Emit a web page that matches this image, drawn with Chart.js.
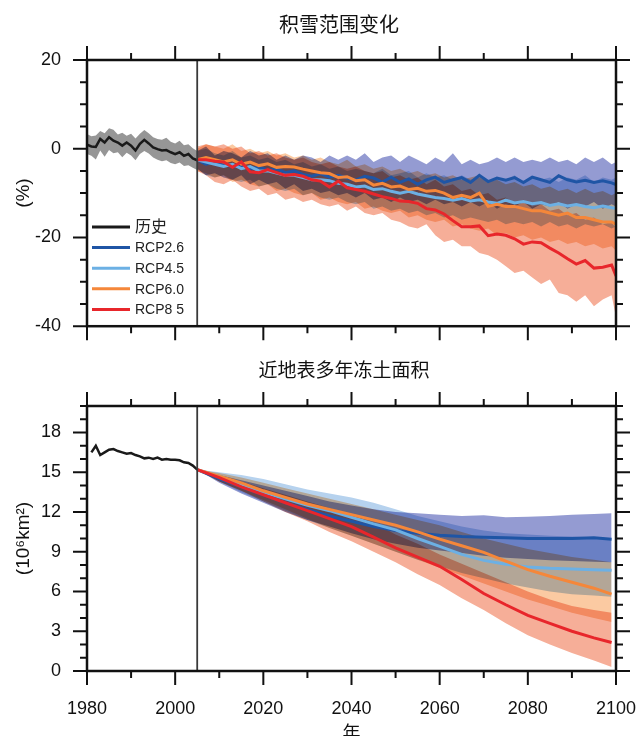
<!DOCTYPE html>
<html>
<head>
<meta charset="utf-8">
<script src="https://cdn.jsdelivr.net/npm/chart.js@4.4.1/dist/chart.umd.min.js"></script>
<style>
  html, body { margin: 0; padding: 0; background: #fff; overflow: hidden; }
  .panel { position: absolute; left: 0; width: 637px; }
  #snowBox { top: 0; height: 363px; }
  #permBox { top: 345px; height: 410px; }
</style>
</head>
<body>
<div class="panel" id="snowBox"><canvas id="snow" width="637" height="363"></canvas></div>
<div class="panel" id="permBox"><canvas id="perm" width="637" height="410"></canvas></div>
<script>
// ---- snow cover extent change (%) ----
const histYears = [1980,1981,1982,1983,1984,1985,1986,1987,1988,1989,
  1990,1991,1992,1993,1994,1995,1996,1997,1998,1999,2000,2001,2002,2003,2004,2005];
const snowHist   = [0.9,0.5,0.4,2.2,1.4,2.6,1.8,1.4,0.7,1.4, 0.7,-0.4,1.1,2.0,1.2,0.3,-0.1,-0.4,-0.3,-0.8, -1.2,-0.8,-1.6,-1.2,-2.2,-2.6];
const snowHistHi = [3.3,2.8,3.0,4.0,3.5,4.6,4.3,3.2,3.6,2.9, 3.4,2.3,3.4,4.2,3.5,2.6,2.2,2.0,2.5,1.6, 1.2,1.8,0.8,1.0,0.1,-0.5];
const snowHistLo = [-1.2,-1.6,-2.4,-0.4,-1.8,-0.3,-1.0,-0.8,-1.9,-0.9, -1.5,-2.6,-1.2,-0.5,-1.1,-2.0,-2.5,-2.8,-2.6,-3.2, -3.5,-3.1,-3.9,-3.7,-4.3,-4.8];

const snowYears = [2005,2007,2009,2011,2013,2015,2017,2019,2021,2023,
  2025,2027,2029,2031,2033,2035,2037,2039,2041,2043,
  2045,2047,2049,2051,2053,2055,2057,2059,2061,2063,
  2065,2067,2069,2071,2073,2075,2077,2079,2081,2083,
  2085,2087,2089,2091,2093,2095,2097,2099,2100];

const snow26 = [-2.5,-3.5,-3.0,-3.6,-4.0,-3.8,-4.6,-4.1,-4.9,-4.5,
  -5.4,-5.0,-5.8,-6.2,-5.6,-6.4,-6.0,-6.6,-7.1,-6.2,
  -6.6,-7.5,-6.4,-7.6,-6.8,-8.0,-7.0,-6.4,-7.6,-7.0,
  -6.5,-7.6,-6.0,-7.4,-6.6,-7.1,-6.5,-7.6,-6.4,-7.0,
  -7.6,-6.1,-7.0,-7.5,-7.1,-7.6,-7.2,-7.7,-8.1];
const snow26Hi = [-0.5,0.5,-1.5,-0.5,-1.0,-2.0,-0.5,-1.5,-1.0,-2.5,
  -1.5,-2.5,-1.5,-2.0,-3.0,-1.5,-2.5,-1.5,-2.5,-1.0,
  -3.0,-2.0,-1.5,-3.0,-1.5,-2.5,-3.5,-2.0,-3.0,-1.0,
  -3.5,-2.5,-3.5,-3.0,-2.0,-3.0,-2.0,-3.0,-2.5,-3.0,
  -2.0,-3.0,-2.5,-3.5,-2.0,-3.0,-2.0,-3.5,-3.0];
const snow26Lo = [-4.5,-6.0,-5.5,-6.5,-7.0,-6.0,-8.0,-7.0,-8.0,-7.5,
  -9.0,-8.0,-9.5,-9.0,-10.0,-9.5,-10.5,-10.0,-11.0,-10.0,
  -11.5,-11.0,-12.0,-11.0,-12.0,-11.5,-12.5,-11.5,-12.5,-12.0,
  -13.0,-12.0,-13.0,-12.0,-13.5,-12.5,-13.0,-12.0,-13.5,-12.5,
  -13.0,-12.0,-13.5,-12.5,-13.0,-12.0,-13.5,-12.5,-13.0];

const snow45 = [-2.5,-3.0,-3.5,-4.0,-3.5,-4.5,-4.0,-5.0,-5.0,-5.5,
  -6.0,-6.0,-6.5,-7.0,-7.0,-7.2,-7.8,-8.0,-8.6,-8.4,
  -9.2,-9.0,-9.6,-10.0,-9.6,-10.2,-10.6,-11.0,-11.2,-11.6,
  -11.2,-11.8,-11.5,-12.0,-12.3,-11.6,-12.2,-11.9,-12.4,-12.1,
  -12.8,-12.4,-12.9,-12.6,-13.0,-13.3,-12.9,-13.3,-13.4];
const snow45Hi = [-0.5,0.0,-1.0,-1.5,-0.5,-2.0,-1.5,-2.5,-2.0,-3.0,
  -2.5,-3.5,-3.0,-4.0,-3.5,-4.5,-4.0,-5.0,-4.5,-5.0,
  -5.5,-4.5,-6.0,-5.5,-5.0,-6.5,-5.5,-6.5,-6.0,-7.0,
  -6.0,-7.0,-6.5,-7.5,-6.5,-7.0,-6.0,-7.5,-6.5,-7.0,
  -6.5,-7.5,-6.5,-7.0,-6.0,-7.5,-6.5,-7.0,-6.5];
const snow45Lo = [-4.5,-6.0,-6.5,-6.0,-7.0,-7.5,-7.0,-8.5,-8.0,-9.0,
  -9.5,-9.0,-10.5,-10.0,-11.0,-11.5,-11.0,-12.0,-12.5,-12.0,
  -13.5,-13.0,-14.0,-13.5,-14.5,-14.0,-15.0,-14.5,-15.5,-15.0,
  -16.0,-15.5,-16.0,-16.5,-16.0,-17.0,-16.5,-17.0,-16.5,-17.5,
  -16.5,-17.5,-17.0,-18.0,-17.0,-17.5,-17.0,-18.0,-17.5];

const snow60 = [-2.5,-2.0,-2.5,-3.0,-2.5,-3.5,-3.0,-3.8,-3.4,-4.2,
  -4.0,-4.1,-4.6,-5.0,-5.4,-5.6,-6.5,-6.3,-7.2,-7.0,
  -8.2,-7.8,-8.6,-8.4,-9.2,-8.9,-9.6,-9.4,-10.0,-11.0,
  -10.5,-11.0,-10.0,-13.0,-12.5,-13.0,-13.0,-13.5,-14.0,-14.0,
  -14.5,-15.0,-14.5,-15.5,-15.5,-16.0,-16.5,-16.5,-17.0];
const snow60Hi = [0.0,1.0,0.5,0.0,1.0,-0.5,0.0,-1.0,-0.5,-1.5,
  -1.0,-2.0,-1.5,-2.5,-2.0,-3.0,-3.5,-2.5,-4.0,-3.5,
  -4.5,-4.0,-5.0,-4.5,-5.5,-5.0,-6.0,-5.5,-6.5,-6.0,
  -7.0,-6.5,-6.0,-7.5,-7.0,-8.0,-7.5,-8.5,-8.0,-9.0,
  -8.5,-9.5,-9.0,-10.0,-9.0,-10.0,-9.5,-10.5,-10.0];
const snow60Lo = [-5.0,-5.5,-6.5,-6.0,-7.5,-7.0,-8.0,-8.5,-8.0,-9.5,
  -9.0,-10.0,-10.5,-10.0,-11.5,-11.0,-12.0,-12.5,-12.0,-13.5,
  -13.0,-14.0,-14.5,-14.0,-15.5,-15.0,-16.0,-16.5,-16.0,-17.5,
  -17.0,-18.0,-18.5,-18.0,-19.5,-19.0,-20.0,-19.5,-20.5,-20.0,
  -21.0,-20.5,-21.5,-21.0,-22.0,-21.5,-22.5,-22.0,-23.0];

const snow85 = [-2.5,-2.5,-2.8,-3.0,-4.2,-3.0,-5.2,-5.4,-4.7,-5.4,
  -6.0,-5.8,-6.2,-7.0,-7.3,-8.6,-7.3,-8.8,-9.2,-9.6,
  -10.2,-10.8,-11.2,-11.8,-11.9,-12.3,-13.5,-13.8,-14.7,-16.2,
  -17.6,-17.6,-17.4,-19.6,-19.2,-19.5,-20.3,-21.5,-21.0,-21.2,
  -22.4,-23.5,-24.8,-26.0,-25.2,-26.9,-26.7,-26.2,-28.7];
const snow85Hi = [0.5,1.0,0.5,1.0,0.0,0.5,-1.0,-0.5,-1.5,-1.0,
  -2.0,-2.5,-2.0,-3.0,-3.5,-3.0,-4.0,-4.5,-4.0,-5.0,
  -5.5,-5.0,-6.5,-6.0,-7.0,-6.5,-8.0,-7.0,-8.5,-8.0,
  -9.5,-9.0,-10.5,-10.0,-11.5,-11.0,-12.5,-11.5,-13.0,-12.5,
  -14.0,-13.5,-15.0,-14.5,-16.0,-15.5,-17.0,-16.5,-18.0];
const snow85Lo = [-5.0,-6.0,-7.5,-8.0,-7.0,-8.5,-9.5,-9.0,-10.5,-10.0,
  -11.5,-11.0,-12.0,-11.5,-12.5,-13.0,-12.5,-14.0,-13.0,-14.5,
  -15.0,-14.5,-16.0,-16.5,-17.5,-18.0,-17.0,-19.5,-21.0,-20.5,
  -22.0,-22.0,-23.5,-24.0,-25.0,-26.5,-28.0,-27.5,-29.0,-30.5,
  -29.5,-32.5,-33.0,-34.5,-33.0,-35.5,-34.0,-33.0,-38.0];

// ---- near-surface permafrost area (10^6 km^2) ----
const permHistYears = [1981,1982,1983,1984,1985,1986,1987,1988,1989,1990,
  1991,1992,1993,1994,1995,1996,1997,1998,1999,2000,2001,2002,2003,2004,2005];
const permHist = [16.5,17.0,16.3,16.5,16.7,16.75,16.6,16.5,16.4,16.45,
  16.3,16.2,16.05,16.1,16.0,16.1,15.95,16.0,15.95,15.95,15.9,15.75,15.7,15.5,15.2];

const permYears = [2005,2010,2015,2020,2025,2030,2035,2040,2045,2050,
  2055,2060,2065,2070,2075,2080,2085,2090,2095,2099];
const perm26   = [15.2,14.5,13.9,13.3,12.7,12.2,11.7,11.3,10.9,10.6,10.4,10.25,10.15,10.1,10.05,10.0,10.0,10.0,10.05,9.95];
const perm26Hi = [15.2,14.8,14.4,14.0,13.6,13.2,12.8,12.5,12.2,12.0,11.9,11.8,11.7,11.75,11.6,11.65,11.7,11.8,11.85,11.9];
const perm26Lo = [15.2,14.2,13.4,12.7,12.0,11.4,10.9,10.4,9.95,9.6,9.3,9.1,8.9,8.7,8.55,8.45,8.35,8.3,8.25,8.2];
const perm45   = [15.2,14.7,14.1,13.5,13.0,12.5,12.1,11.6,11.1,10.65,10.0,9.4,8.8,8.35,8.05,7.85,7.75,7.7,7.65,7.6];
const perm45Hi = [15.2,15.0,14.8,14.5,14.1,13.7,13.4,13.1,12.7,12.2,11.7,11.3,10.9,10.6,10.4,10.3,10.2,10.15,10.1,10.0];
const perm45Lo = [15.2,14.3,13.5,12.8,12.1,11.4,10.8,10.2,9.6,9.0,8.4,7.9,7.4,7.0,6.6,6.3,6.0,5.8,5.7,5.6];
const perm60   = [15.2,14.7,14.2,13.6,13.1,12.6,12.2,11.8,11.4,11.0,10.5,9.95,9.45,8.95,8.3,7.65,7.15,6.7,6.25,5.8];
const perm60Hi = [15.2,14.95,14.6,14.2,13.8,13.4,13.0,12.6,12.2,11.8,11.4,11.0,10.5,10.0,9.6,9.2,8.9,8.6,8.4,8.2];
const perm60Lo = [15.2,14.3,13.6,12.9,12.2,11.5,10.8,10.2,9.6,9.0,8.4,7.8,7.2,6.6,6.0,5.4,4.9,4.4,4.0,3.7];
const perm85   = [15.2,14.6,13.9,13.3,12.7,12.1,11.5,10.9,10.1,9.3,8.6,7.9,6.9,5.85,5.0,4.2,3.6,3.0,2.5,2.15];
const perm85Hi = [15.2,14.8,14.3,13.8,13.3,12.8,12.3,11.8,11.2,10.3,9.6,8.8,8.1,7.4,6.7,6.0,5.4,4.9,4.6,4.4];
const perm85Lo = [15.2,14.3,13.6,12.8,12.0,11.3,10.5,9.8,9.0,8.2,7.3,6.5,5.5,4.6,3.6,2.7,2.0,1.35,0.8,0.3];

const seriesNames = ['历史', 'RCP2.6', 'RCP4.5', 'RCP6.0', 'RCP8 5'];
const lineColors  = ['#1a1a1a', '#1f55a5', '#6cb0e4', '#f5873a', '#e8262b'];
// band tints, laid down with a multiply blend so overlaps darken like the original
const bandColors  = ['rgb(150,150,150)', 'rgb(148,155,210)', 'rgb(182,210,238)',
                     'rgb(251,202,162)', 'rgb(246,174,152)'];

const FONT = '"Liberation Sans", "Noto Sans CJK SC", sans-serif';

const pts = (xs, ys) => xs.map((x, i) => ({ x: x, y: ys[i] }));

function band(xs, hi, lo, color, order) {
    return [
        { data: pts(xs, hi), borderWidth: 0, pointRadius: 0, fill: '+1', backgroundColor: color, order: order },
        { data: pts(xs, lo), borderWidth: 0, pointRadius: 0, fill: false, order: order },
    ];
}

function line(xs, ys, color, order, width) {
    return { data: pts(xs, ys), borderColor: color, borderWidth: width || 3, pointRadius: 0, fill: false, order: order };
}

// frame, outward ticks, 2005 divider, title and legend; bands use multiply
const panelDecor = {
    id: 'panelDecor',
    beforeDatasetsDraw(chart) {
        chart.ctx.save();
        chart.ctx.globalCompositeOperation = 'multiply';
    },
    afterDatasetDraw(chart, args) {
        // order 10 upper band is the last band drawn; lines follow in normal mode
        if (args.meta.order === 10 && chart.data.datasets[args.index].fill) {
            chart.ctx.globalCompositeOperation = 'source-over';
        }
    },
    afterDatasetsDraw(chart) {
        chart.ctx.restore();
    },
    afterDraw(chart, args, o) {
        const { ctx, chartArea: a, scales: { x, y } } = chart;
        ctx.save();
        const xd = x.getPixelForValue(2005);
        ctx.strokeStyle = '#3a3a3a';
        ctx.lineWidth = 1.8;
        ctx.beginPath();
        ctx.moveTo(xd, a.top);
        ctx.lineTo(xd, a.bottom);
        ctx.stroke();

        ctx.strokeStyle = '#111';
        ctx.lineWidth = 2.5;
        ctx.strokeRect(a.left, a.top, a.right - a.left, a.bottom - a.top);

        ctx.lineWidth = 2;
        ctx.beginPath();
        for (let v = x.min; v <= x.max; v += o.xMinor) {
            const len = v % o.xMajor === 0 ? 14 : 7;
            const px = x.getPixelForValue(v);
            ctx.moveTo(px, a.top); ctx.lineTo(px, a.top - len);
            ctx.moveTo(px, a.bottom); ctx.lineTo(px, a.bottom + len);
        }
        for (let v = y.min; v <= y.max; v += o.yMinor) {
            const len = v % o.yMajor === 0 ? 14 : 7;
            const py = y.getPixelForValue(v);
            ctx.moveTo(a.left, py); ctx.lineTo(a.left - len, py);
            ctx.moveTo(a.right, py); ctx.lineTo(a.right + len, py);
        }
        ctx.stroke();

        ctx.fillStyle = '#111';
        ctx.font = o.titleSize + 'px ' + FONT;
        ctx.textAlign = 'center';
        ctx.textBaseline = 'middle';
        ctx.fillText(o.title, o.titleX, o.titleY);

        if (o.legend) {
            ctx.textAlign = 'left';
            ctx.lineWidth = 3;
            seriesNames.forEach((name, i) => {
                const yy = 227 + i * 20.6;
                ctx.strokeStyle = lineColors[i];
                ctx.beginPath();
                ctx.moveTo(92, yy);
                ctx.lineTo(130, yy);
                ctx.stroke();
                ctx.fillStyle = '#222';
                ctx.font = (i === 0 ? '16px ' : '14px ') + FONT;
                ctx.fillText(name, 135, yy + 1);
            });
        }
        ctx.restore();
    },
};

function baseOptions(cfg) {
    return {
        responsive: false,
        animation: false,
        devicePixelRatio: 1,
        layout: { padding: { top: cfg.padTop, right: 21, left: 0, bottom: 0 } },
        plugins: {
            legend: { display: false },
            tooltip: { enabled: false },
            panelDecor: cfg.decor,
        },
        scales: {
            x: {
                type: 'linear', min: 1980, max: 2100,
                grid: { display: false, drawTicks: false },
                border: { display: false },
                ticks: {
                    display: cfg.xLabels, stepSize: 20, padding: 0, maxRotation: 0, autoSkip: false,
                    color: '#111', font: { family: FONT, size: 18, lineHeight: 4.2 },
                    callback: (v) => String(v),
                },
                title: {
                    display: cfg.xLabels, text: '年', color: '#111',
                    font: { family: FONT, size: 18 }, padding: { top: 0, bottom: 10 },
                },
                afterFit: (s) => { s.height = cfg.xHeight; },
            },
            y: {
                type: 'linear', min: cfg.yMin, max: cfg.yMax,
                grid: { display: false, drawTicks: false },
                border: { display: false },
                ticks: {
                    stepSize: cfg.yStep, padding: 26, includeBounds: false,
                    color: '#111', font: { family: FONT, size: 18 },
                    callback: (v) => String(v),
                },
                title: {
                    display: true, text: cfg.yTitle, color: '#111',
                    font: { family: FONT, size: 19 }, padding: { top: 12, bottom: 0 },
                },
                afterFit: (s) => { s.width = 87; },
            },
        },
    };
}

new Chart(document.getElementById('snow'), {
    type: 'line',
    data: {
        datasets: [
            line(histYears, snowHist, lineColors[0], 5, 2.5),
            line(snowYears, snow26, lineColors[1], 4),
            line(snowYears, snow45, lineColors[2], 3),
            line(snowYears, snow60, lineColors[3], 2),
            line(snowYears, snow85, lineColors[4], 1),
            ...band(histYears, snowHistHi, snowHistLo, bandColors[0], 14),
            ...band(snowYears, snow26Hi, snow26Lo, bandColors[1], 13),
            ...band(snowYears, snow45Hi, snow45Lo, bandColors[2], 12),
            ...band(snowYears, snow60Hi, snow60Lo, bandColors[3], 11),
            ...band(snowYears, snow85Hi, snow85Lo, bandColors[4], 10),
        ],
    },
    options: baseOptions({
        padTop: 60, xHeight: 20, xLabels: false,
        yMin: -40, yMax: 20, yStep: 20, yTitle: '(%)',
        decor: { title: '积雪范围变化', titleSize: 20, titleX: 339, titleY: 26, legend: true,
                 xMajor: 20, xMinor: 10, yMajor: 20, yMinor: 5 },
    }),
    plugins: [panelDecor],
});

new Chart(document.getElementById('perm'), {
    type: 'line',
    data: {
        datasets: [
            line(permHistYears, permHist, lineColors[0], 5, 2.5),
            line(permYears, perm26, lineColors[1], 4),
            line(permYears, perm45, lineColors[2], 3),
            line(permYears, perm60, lineColors[3], 2),
            line(permYears, perm85, lineColors[4], 1),
            ...band(permYears, perm26Hi, perm26Lo, bandColors[1], 13),
            ...band(permYears, perm45Hi, perm45Lo, bandColors[2], 12),
            ...band(permYears, perm60Hi, perm60Lo, bandColors[3], 11),
            ...band(permYears, perm85Hi, perm85Lo, bandColors[4], 10),
        ],
    },
    options: baseOptions({
        padTop: 61, xHeight: 84, xLabels: true,
        yMin: 0, yMax: 20, yStep: 3, yTitle: '(10⁶km²)',
        decor: { title: '近地表多年冻土面积', titleSize: 19, titleX: 344, titleY: 27, legend: false,
                 xMajor: 20, xMinor: 10, yMajor: 3, yMinor: 1 },
    }),
    plugins: [panelDecor],
});
</script>
</body>
</html>
